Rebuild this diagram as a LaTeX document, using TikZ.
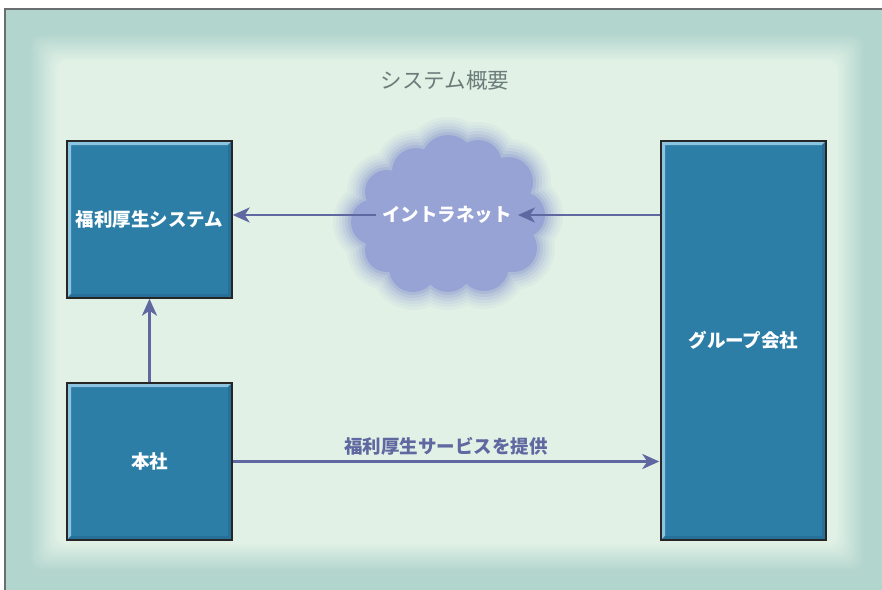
\documentclass[tikz,border=0pt]{standalone}
\usepackage{fontspec}
\usetikzlibrary{arrows.meta,calc}
\newfontfamily\jp{Noto Sans CJK JP}
\definecolor{bandout}{HTML}{B2D5CE}
\definecolor{bandin}{HTML}{E1F1E6}
\definecolor{framegray}{HTML}{6B6E6E}
\definecolor{boxfill}{HTML}{2C7EA7}
\definecolor{boxlight}{HTML}{8CC4DF}
\definecolor{boxdark}{HTML}{26709A}
\definecolor{cloudcol}{HTML}{96A3D4}
\definecolor{arrowcol}{HTML}{5F68A0}
\definecolor{titlecol}{HTML}{6B7D7A}
\tikzset{
  x=1pt, y=-1pt,
  bevelbox/.style={draw=black!85, line width=1.4pt, fill=boxfill, inner sep=0pt,
    text=white, font=\jp\bfseries\fontsize{18.5}{22}\selectfont,
    path picture={
      \fill[boxlight] (path picture bounding box.north west) -- (path picture bounding box.north east)
        -- ++(-4pt,-4pt) -- ($(path picture bounding box.north west)+(4pt,-4pt)$)
        -- ($(path picture bounding box.south west)+(4pt,4pt)$) -- (path picture bounding box.south west) -- cycle;
      \fill[boxdark] (path picture bounding box.south east) -- (path picture bounding box.north east)
        -- ++(-4pt,-4pt) -- ($(path picture bounding box.south east)+(-4pt,4pt)$)
        -- ($(path picture bounding box.south west)+(4pt,4pt)$) -- (path picture bounding box.south west) -- cycle;
    }},
  flow/.style={draw=arrowcol, line width=2.8pt, -{Stealth[length=17pt,width=15pt,inset=5pt]}},
  cloudlabel/.style={text=white, font=\jp\bfseries\fontsize{18.5}{22}\selectfont, inner sep=6pt},
  flowlabel/.style={text=arrowcol, font=\jp\bfseries\fontsize{18.5}{22}\selectfont},
  titlelabel/.style={text=titlecol, font=\jp\fontsize{21.5}{26}\selectfont}
}
\newcommand{\cloudpath}[1]{%
  (448,215) ellipse [x radius=70+#1, y radius=50+#1]
  (448,162) circle [radius=29+#1]
  (478,164) circle [radius=26+#1]
  (416,172) circle [radius=26+#1]
  (508,182) circle [radius=27+#1]
  (387,192) circle [radius=24+#1]
  (522,215) circle [radius=25+#1]
  (374,222) circle [radius=25+#1]
  (513,248) circle [radius=26+#1]
  (387,250) circle [radius=24+#1]
  (484,266) circle [radius=27+#1]
  (448,268) circle [radius=26+#1]
  (413,268) circle [radius=26+#1]
}
\begin{document}
\begin{tikzpicture}
\useasboundingbox (0,0) rectangle (882,589);
\fill[white] (0,0) rectangle (882,589);
\begin{scope}
\clip (0,0) rectangle (882,589);
\fill[bandout] (5,9) rectangle (889,596);
\foreach \i in {0,...,14}{
  \pgfmathsetmacro{\ins}{24+2*\i}
  \pgfmathsetmacro{\pc}{\i*100/14}
  \fill[bandin!\pc!bandout, rounded corners=10pt] (5+\ins,9+\ins) rectangle (889-\ins,596-\ins);
}
\draw[framegray, line width=1.5pt] (5,600) -- (5,9) -- (895,9);
\end{scope}

% cloud with soft edges
\foreach \r/\o in {16/0.07,13/0.09,10/0.12,7/0.16,4/0.22,1/0.35,-2/1}{
  \fill[cloudcol, fill opacity=\o] \cloudpath{\r};
}

\node[titlelabel] (title) at (445,80) {システム概要};

\node[bevelbox, minimum width=165pt, minimum height=157pt] (sys) at (149.5,219.5) {福利厚生システム};
\node[bevelbox, minimum width=165pt, minimum height=157pt] (hq) at (149.5,461.5) {本社};
\node[bevelbox, minimum width=165pt, minimum height=399pt] (grp) at (743.5,340.5) {グループ会社};

\node[cloudlabel] (net) at (447,215) {イントラネット};

\draw[flow] (grp.west |- net) -- (net.east);
\draw[flow] (net.west) -- (sys.east |- net);
\draw[flow] (hq.north) -- (sys.south);
\draw[flow] (hq.east) -- node[flowlabel, above=1pt] (svc) {福利厚生サービスを提供} ($(grp.west |- hq.east)+(-1,0)$);
\end{tikzpicture}
\end{document}
